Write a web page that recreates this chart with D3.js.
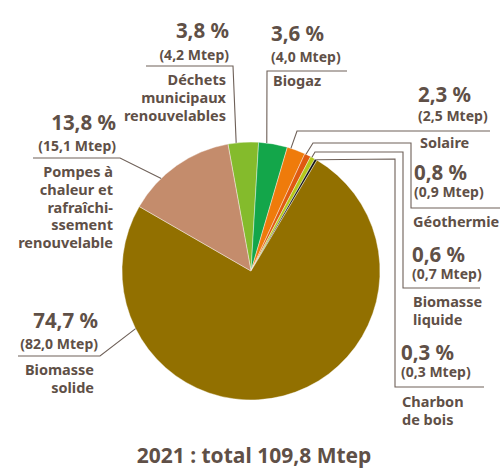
<!DOCTYPE html>
<html lang="fr">
<head>
<meta charset="utf-8">
<script src="https://cdn.jsdelivr.net/npm/d3@7"></script>
<style>
  html, body { margin: 0; padding: 0; background: #fff; }
  svg { display: block; font-family: "Noto Sans", "Open Sans", sans-serif; font-weight: 700; }
  .pct { font-size: 20.5px; fill: #5f5047; }
  .mtep { font-size: 14px; fill: #5f5047; }
  .name { font-size: 14.5px; fill: #5f5047; }
  .title { font-size: 21px; fill: #5f5047; }
  .leader { fill: none; stroke: #6e6058; stroke-width: 1.1; }
</style>
</head>
<body>
<svg id="chart" width="500" height="468"></svg>
<script>
// Renewable heat production by source, 2021
const categories = ["Déchets municipaux renouvelables", "Biogaz", "Solaire", "Géothermie",
  "Biomasse liquide", "Charbon de bois", "Biomasse solide",
  "Pompes à chaleur et rafraîchissement renouvelable"];
const shares = [3.8, 3.6, 2.3, 0.8, 0.6, 0.3, 74.7, 13.8];        // % of total
const mtep = [4.2, 4.0, 2.5, 0.9, 0.7, 0.3, 82.0, 15.1];           // Mtep
const nameLines = [
  ["Déchets", "municipaux", "renouvelables"],
  ["Biogaz"],
  ["Solaire"],
  ["Géothermie"],
  ["Biomasse", "liquide"],
  ["Charbon", "de bois"],
  ["Biomasse", "solide"],
  ["Pompes à", "chaleur et", "rafraîchi-", "ssement", "renouvelable"]
];
const colors = ["#84bb2c", "#13a64a", "#ef7b0b", "#df5a10", "#b3c81a", "#161616", "#927000", "#c48c6c"];
const totalYear = "2021";
const totalMtep = 109.8;

const frNum = v => v.toFixed(1).replace(".", ",");

const svg = d3.select("#chart");
const cx = 251, cy = 271, R = 129;
const deg = Math.PI / 180;
const start = -10.3 * deg;

const pie = d3.pie().sort(null).value(d => d).startAngle(start).endAngle(start + 2 * Math.PI);
const arcs = pie(shares);
const arc = d3.arc().innerRadius(0).outerRadius(R);

const g = svg.append("g").attr("transform", `translate(${cx},${cy})`);
g.selectAll("path.slice")
  .data(arcs)
  .join("path")
  .attr("class", "slice")
  .attr("d", arc)
  .attr("fill", (d, i) => colors[i])
  .attr("stroke", "#fff")
  .attr("stroke-width", 0.4);

// Label placement: anchor fraction along each slice, leader bends, text positions
const layout = [
  { f: 0.27, path: [[233, 66], [146, 66]], anchor: "end", x: 229, yPct: 38, yMtep: 60, xName: 226, yName: 85 },
  { f: 0.28, path: [[267, 71], [347, 71]], anchor: "start", x: 271, yPct: 41, yMtep: 62, xName: 273, yName: 86 },
  { f: 0.2, path: [[297, 131], [490, 131]], anchor: "start", x: 418, yPct: 102, yMtep: 121, xName: 420, yName: 148 },
  { f: 0.2, path: [[313, 143], [411, 143], [411, 208], [500, 208]], anchor: "start", x: 414, yPct: 180, yMtep: 197, xName: 413, yName: 227 },
  { f: 0.3, path: [[315, 152], [403, 152], [403, 288], [480, 288]], anchor: "start", x: 412, yPct: 262, yMtep: 279, xName: 413, yName: 307 },
  { f: 0.6, path: [[395, 159], [395, 387], [484, 387]], anchor: "start", x: 401, yPct: 360, yMtep: 377, xName: 402, yName: 407 },
  { f: 0.79, path: [[100, 356], [18, 356]], anchor: "end", x: 98, yPct: 328, yMtep: 349, xName: 94, yName: 375 },
  { f: 0.32, path: [[120, 158], [33, 158]], anchor: "end", x: 116, yPct: 130, yMtep: 151, xName: 113, yName: 177 }
];

const line = d3.line();
const labels = svg.append("g");
arcs.forEach((a, i) => {
  const L = layout[i];
  const ang = a.startAngle + L.f * (a.endAngle - a.startAngle);
  const p0 = [cx + R * Math.sin(ang), cy - R * Math.cos(ang)];
  labels.append("path").attr("class", "leader").attr("d", line([p0, ...L.path]));

  labels.append("text").attr("class", "pct")
    .attr("x", L.x).attr("y", L.yPct).attr("text-anchor", L.anchor)
    .text(frNum(shares[i]) + " %");
  labels.append("text").attr("class", "mtep")
    .attr("x", L.x).attr("y", L.yMtep).attr("text-anchor", L.anchor)
    .text("(" + frNum(mtep[i]) + " Mtep)");
  const t = labels.append("text").attr("class", "name")
    .attr("text-anchor", L.anchor);
  nameLines[i].forEach((s, k) => {
    t.append("tspan").attr("x", L.xName).attr("y", L.yName + k * 17.8).text(s);
  });
});

svg.append("text").attr("class", "title")
  .attr("x", 254).attr("y", 463).attr("text-anchor", "middle")
  .text(`${totalYear} : total ${frNum(totalMtep)} Mtep`);
</script>
</body>
</html>
